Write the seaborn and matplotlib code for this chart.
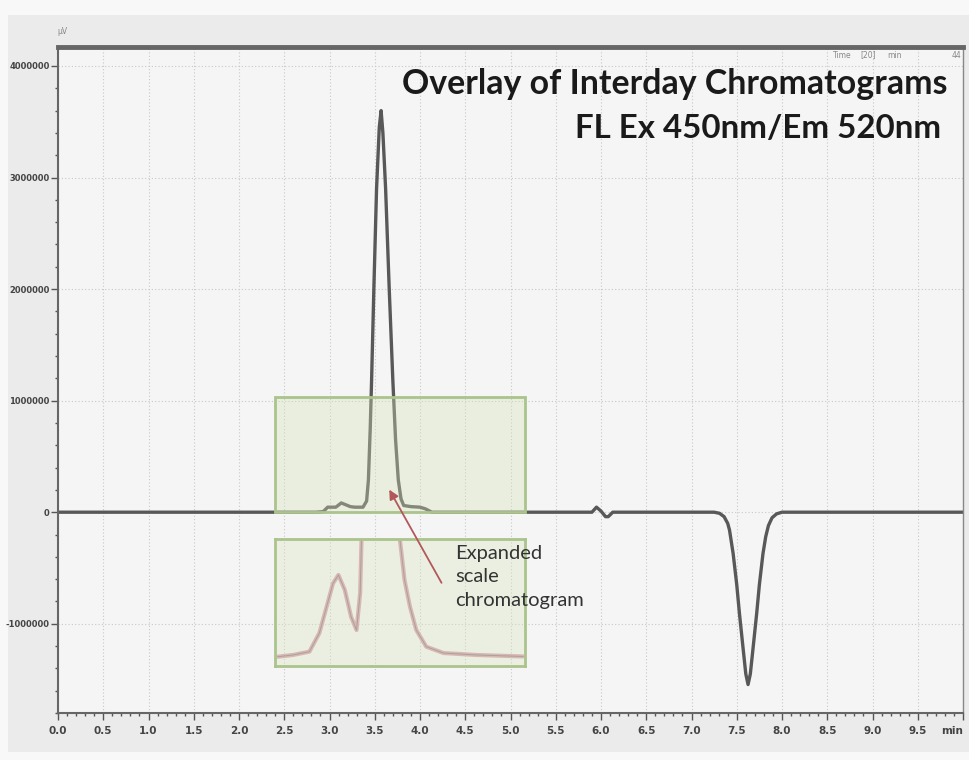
import matplotlib
matplotlib.use("Agg")
import matplotlib.pyplot as plt
from matplotlib.patches import Rectangle, FancyArrowPatch
from matplotlib.ticker import MultipleLocator, FixedLocator
import seaborn as sns

# Main trace (time in min, signal in uV)
trace_time = [0.0, 2.85, 2.93, 2.98, 3.07, 3.13, 3.23, 3.28, 3.37, 3.41, 3.43, 3.45,
              3.465, 3.49, 3.52, 3.55, 3.57, 3.59, 3.62, 3.66, 3.70, 3.73, 3.76, 3.79,
              3.82, 3.90, 4.00, 4.06, 4.13, 5.90, 5.95, 6.00, 6.05, 6.08, 6.13, 7.25,
              7.31, 7.36, 7.40, 7.42, 7.46, 7.50, 7.53, 7.57, 7.60, 7.625, 7.65, 7.68,
              7.72, 7.75, 7.79, 7.82, 7.85, 7.89, 7.94, 8.00, 10.0]
trace_signal = [0, 0, 5000, 45000, 45000, 83000, 50000, 45000, 45000, 100000, 290000, 750000,
                1180000, 2000000, 2900000, 3450000, 3600000, 3400000, 2900000, 2000000, 1180000, 650000, 290000, 120000,
                60000, 50000, 45000, 30000, 0, 0, 45000, 10000, -40000, -40000, 0, 0,
                -10000, -40000, -100000, -160000, -370000, -650000, -910000, -1220000, -1450000, -1545000, -1450000, -1220000,
                -910000, -650000, -370000, -220000, -120000, -50000, -15000, 0, 0]

# Expanded scale inset trace (same time axis, arbitrary units)
inset_time = [2.43, 2.60, 2.78, 2.89, 2.97, 3.04, 3.10, 3.17, 3.24, 3.30, 3.34, 3.355,
              3.40, 3.57, 3.74, 3.78, 3.83, 3.89, 3.96, 4.07, 4.26, 4.62, 5.14]
inset_signal = [7.3, 8.7, 11.3, 26, 46.7, 65, 71.7, 60, 38.8, 28.3, 57.5, 99,
                160, 300, 160, 99, 67.7, 46.7, 28.3, 15.2, 10.2, 8.7, 7.5]

x_tick_values = [i * 0.5 for i in range(21)]
x_tick_labels = ["0.0", "0.5", "1.0", "1.5", "2.0", "2.5", "3.0", "3.5", "4.0", "4.5", "5.0",
                 "5.5", "6.0", "6.5", "7.0", "7.5", "8.0", "8.5", "9.0", "9.5", "min"]
y_tick_values = [-1000000, 0, 1000000, 2000000, 3000000, 4000000]
y_tick_labels = ["-1000000", "0", "1000000", "2000000", "3000000", "4000000"]

W, H = 969, 760
sns.set_theme(style="ticks")
plt.rcParams['font.family'] = ['Lato', 'DejaVu Sans']

fig = plt.figure(figsize=(W / 100, H / 100), dpi=100, facecolor='#f8f8f8')
fig.patches.append(Rectangle((8 / W, 8 / H), 961 / W, 737 / H, transform=fig.transFigure,
                             facecolor='#ebebeb', edgecolor='none', zorder=-10))

# main chromatogram axes
ax = fig.add_axes([58 / W, 47 / H, 905 / W, 666 / H])
ax.set_facecolor('#f5f5f5')
sns.lineplot(x=trace_time, y=trace_signal, ax=ax, color='#585858', linewidth=2.4, zorder=2)
ax.set_xlim(0, 10)
ax.set_ylim(-1800000, 4170000)

ax.xaxis.set_major_locator(FixedLocator(x_tick_values))
ax.set_xticklabels(x_tick_labels)
ax.xaxis.set_minor_locator(MultipleLocator(0.1))
ax.yaxis.set_major_locator(FixedLocator(y_tick_values))
ax.set_yticklabels(y_tick_labels)
ax.yaxis.set_minor_locator(MultipleLocator(200000))
ax.grid(which='major', color='#c8c8c8', linestyle=(0, (1, 2)), linewidth=0.8)

ax.tick_params(axis='both', which='major', direction='out', color='#555555', length=5, width=1,
               labelcolor='#444444')
ax.tick_params(axis='both', which='minor', direction='out', color='#555555', length=2.5, width=1)
ax.tick_params(axis='x', labelsize=7.5, pad=4)
ax.tick_params(axis='y', labelsize=6, pad=1)
for lab in ax.get_xticklabels() + ax.get_yticklabels():
    lab.set_family(['DejaVu Sans'])
    lab.set_fontweight('bold')
ax.get_xticklabels()[-1].set_horizontalalignment('right')

ax.spines['left'].set_color('#666666')
ax.spines['left'].set_linewidth(1.5)
ax.spines['bottom'].set_color('#666666')
ax.spines['bottom'].set_linewidth(1.5)
ax.spines['top'].set_color('#666666')
ax.spines['top'].set_linewidth(3.5)
ax.spines['right'].set_color('#888888')
ax.spines['right'].set_linewidth(1)
ax.set_xlabel('')
ax.set_ylabel('')

# highlighted region on the main trace
ax.add_patch(Rectangle((2.40, 0), 2.76, 1030000, facecolor=(0.84, 0.89, 0.72, 0.35),
                       edgecolor='#aac48c', linewidth=2, zorder=3))

# expanded scale inset
axins = fig.add_axes([275 / W, 94 / H, 250 / W, 127 / H])
axins.set_facecolor((0.85, 0.9, 0.74, 0.35))
sns.lineplot(x=inset_time, y=inset_signal, ax=axins, color='#d9b8b2', linewidth=3)
sns.lineplot(x=inset_time, y=inset_signal, ax=axins, color='#a8a0a0', linewidth=0.7)
axins.set_xlim(2.40, 5.16)
axins.set_ylim(0, 100)
axins.set_xticks([])
axins.set_yticks([])
axins.set_xlabel('')
axins.set_ylabel('')
for s in axins.spines.values():
    s.set_color('#aac48c')
    s.set_linewidth(2)

# arrow pointing to the expanded peak
fig.add_artist(FancyArrowPatch((4.253, -655000), (3.645, 224000), transform=ax.transData,
                               arrowstyle='-|>', mutation_scale=14, color='#b3585a', linewidth=1.3))

fig.text(455 / W, 1 - 545 / H, "Expanded\nscale\nchromatogram", ha='left', va='top',
         fontsize=14.5, color='#333333', linespacing=1.45)

fig.text(948 / W, 1 - 84 / H, "Overlay of Interday Chromatograms", ha='right', va='center',
         fontsize=24.4, fontweight='bold', color='#1a1a1a')
fig.text(941 / W, 1 - 128 / H, "FL Ex 450nm/Em 520nm", ha='right', va='center',
         fontsize=23.8, fontweight='bold', color='#1a1a1a')

# small header texts of the instrument software
small = dict(fontsize=5.5, color='#888888', va='center', family=['DejaVu Sans'])
fig.text(57 / W, 1 - 31 / H, "µV", ha='left', **small)
fig.text(833 / W, 1 - 55 / H, "Time", ha='left', **small)
fig.text(860 / W, 1 - 55 / H, "[20]", ha='left', **small)
fig.text(887 / W, 1 - 55 / H, "min", ha='left', **small)
fig.text(961 / W, 1 - 55 / H, "44", ha='right', **small)

fig.savefig('out.png', dpi=100, facecolor=fig.get_facecolor())
